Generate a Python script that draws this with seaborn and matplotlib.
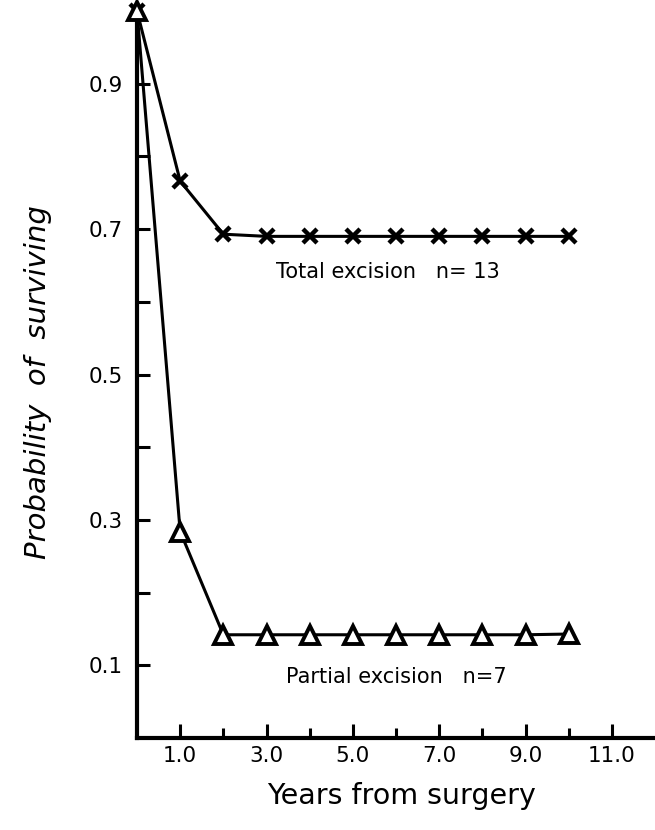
import numpy as np, pandas as pd
import matplotlib
matplotlib.use("Agg")
import matplotlib.pyplot as plt
from matplotlib.ticker import FixedLocator
import seaborn as sns

# data
years = [0, 1, 2, 3, 4, 5, 6, 7, 8, 9, 10]
total_excision = [1.0, 0.766, 0.693, 0.690, 0.690, 0.690, 0.690, 0.690, 0.690, 0.690, 0.690]
partial_excision = [1.0, 0.284, 0.142, 0.142, 0.142, 0.142, 0.142, 0.142, 0.142, 0.142, 0.143]
x_tick_pos = [1, 3, 5, 7, 9, 11]
x_tick_labels = ['1.0', '3.0', '5.0', '7.0', '9.0', '11.0']
y_tick_pos = [0.1, 0.3, 0.5, 0.7, 0.9]
y_tick_labels = ['0.1', '0.3', '0.5', '0.7', '0.9']

sns.set_style("white", {'text.color': 'black', 'axes.labelcolor': 'black',
                        'xtick.color': 'black', 'ytick.color': 'black'})
plt.rcParams['font.family'] = ['DejaVu Sans']

df_total = pd.DataFrame({'years': years, 'surv': total_excision})
df_partial = pd.DataFrame({'years': years, 'surv': partial_excision})

fig = plt.figure(figsize=(6.55, 8.30), dpi=100)
ax = fig.add_axes([137/655, 1 - 738/830, 1 - 137/655, (738 - 11)/830])

sns.lineplot(data=df_total, x='years', y='surv', ax=ax, color='black', lw=2.2,
             marker='x', markersize=10, markeredgecolor='black', markeredgewidth=3.2,
             clip_on=False, zorder=3)
sns.lineplot(data=df_partial, x='years', y='surv', ax=ax, color='black', lw=2.2,
             marker='^', markersize=13, markerfacecolor='white',
             markeredgecolor='black', markeredgewidth=2.8, clip_on=False, zorder=4)

ax.set_xlim(0, 12)
ax.set_ylim(0, 1.0)
ax.set_xticks(x_tick_pos)
ax.set_xticklabels(x_tick_labels)
ax.xaxis.set_minor_locator(FixedLocator([2, 4, 6, 8, 10]))
ax.set_yticks(y_tick_pos)
ax.set_yticklabels(y_tick_labels)
ax.yaxis.set_minor_locator(FixedLocator([0.2, 0.4, 0.6, 0.8]))

ax.tick_params(axis='x', which='major', direction='in', length=10, width=2.2,
               labelsize=15.5, pad=6, bottom=True, colors='black')
ax.tick_params(axis='x', which='minor', direction='in', length=7, width=2.2, bottom=True)
ax.tick_params(axis='y', which='major', direction='in', length=9, width=2.2,
               labelsize=15.5, pad=10, left=True, colors='black')
ax.tick_params(axis='y', which='minor', direction='in', length=9, width=2.2, left=True)

sns.despine(ax=ax)
for s in ['left', 'bottom']:
    ax.spines[s].set_linewidth(3)
    ax.spines[s].set_color('black')

ax.set_xlabel('Years from surgery', fontsize=20.5, color='black')
ax.set_ylabel('Probability  of  surviving', fontsize=21, style='italic', color='black')
ax.xaxis.set_label_coords(0.51, -0.061)
ax.yaxis.set_label_coords(-0.165, 0.49)

ax.text(5.81, 0.641, 'Total excision   n= 13', fontsize=15, ha='center', va='center', color='black')
ax.text(6.0, 0.084, 'Partial excision   n=7', fontsize=15, ha='center', va='center', color='black')

fig.savefig('out.png', dpi=100, facecolor='white')
